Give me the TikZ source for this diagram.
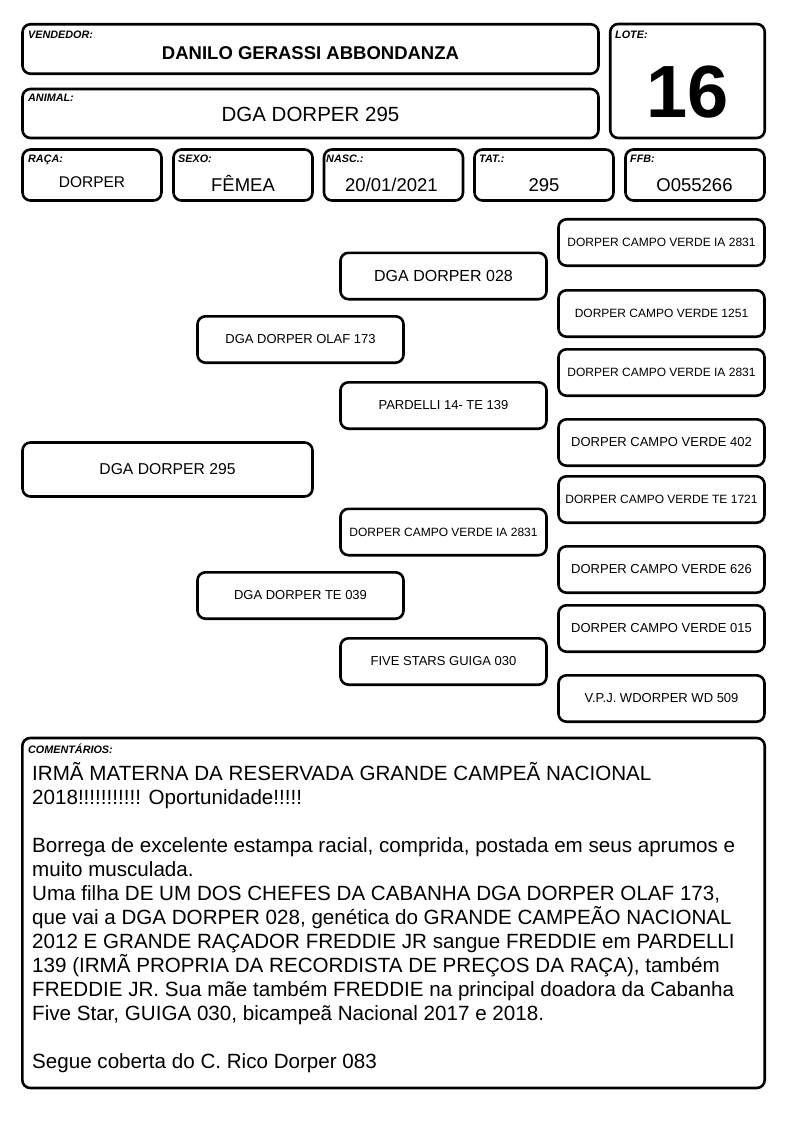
\documentclass[tikz,border=0pt]{standalone}
\usepackage{fontspec}
\setmainfont{Liberation Sans}
\usepackage{tikz}
\usetikzlibrary{positioning}

\begin{document}
\begin{tikzpicture}[
  x=1pt, y=-1pt,
  field/.style={rectangle, rounded corners=8pt, draw, line width=2.6pt,
                inner sep=0pt, minimum width=139pt, minimum height=51pt},
  tag/.style={anchor=base west, inner sep=0pt,
              font=\fontsize{10.8}{12}\selectfont\bfseries\itshape},
  val/.style={anchor=base, inner sep=0pt, font=\fontsize{18.5}{22}\selectfont},
  ped/.style={rectangle, rounded corners=8pt, draw, line width=2.6pt,
              minimum width=206pt, minimum height=46.4pt, inner sep=0pt,
              font=\fontsize{12}{14}\selectfont},
  pedbig/.style={ped, font=\fontsize{13}{15}\selectfont}
]

\useasboundingbox (0,0) rectangle (794,1123);

% ---- Header ----
\node[field, minimum width=576pt, minimum height=49.5pt] (vend)  at (310.5,49)   {};
\node[field, minimum width=576pt, minimum height=49pt]   (anim)  at (310.5,113.5) {};
\node[field, minimum width=154.5pt, minimum height=114pt] (lote) at (687.5,81)   {};

\node[tag] (vendt) at (28,39)  {VENDEDOR:};
\node[tag] (animt) at (28,102) {ANIMAL:};
\node[tag] (lotet) at (615,39) {LOTE:};

\node[val, font=\fontsize{18.5}{22}\selectfont\bfseries] (vendv) at (310.5,60) {DANILO GERASSI ABBONDANZA};
\node[val, font=\fontsize{20.5}{24}\selectfont] (animv) at (310.5,122) {DGA DORPER 295};
\node[val, font=\fontsize{74}{80}\selectfont\bfseries] (lotev) at (687.5,118) {16};

% ---- Data row ----
\node[field] (raca) at (92,175)    {};
\node[field] (sexo) at (243,175)   {};
\node[field] (nasc) at (393.5,175) {};
\node[field] (tat)  at (544,175)   {};
\node[field] (ffb)  at (695,175)   {};

\node[tag] (racat) at (28,163)  {RAÇA:};
\node[tag] (sexot) at (178,163) {SEXO:};
\node[tag] (nasct) at (326,163) {NASC.:};
\node[tag] (tatt)  at (479,163) {TAT.:};
\node[tag] (ffbt)  at (630,163) {FFB:};

\node[val, font=\fontsize{15.5}{18}\selectfont] (racav) at (92,188) {DORPER};
\node[val] (sexov) at (243,192)   {FÊMEA};
\node[val] (nascv) at (391.5,192) {20/01/2021};
\node[val] (tatv)  at (544,192)   {295};
\node[val] (ffbv)  at (694.5,192) {O055266};

% ---- Pedigree ----
\node[ped, minimum width=290pt, minimum height=54pt,
      font=\fontsize{15.7}{18}\selectfont] (p0) at (167.5,469.5) {DGA DORPER 295};

\node[pedbig] (p1) at (300.5,339.5) {DGA DORPER OLAF 173};
\node[pedbig] (p2) at (300.5,595.5) {DGA DORPER TE 039};

\node[ped, font=\fontsize{16}{18}\selectfont] (p11) at (443.5,276) {DGA DORPER 028};
\node[pedbig] (p12) at (443.5,405.5) {PARDELLI 14- TE 139};
\node[ped]    (p21) at (443.5,532)   {DORPER CAMPO VERDE IA 2831};
\node[pedbig] (p22) at (443.5,661.5) {FIVE STARS GUIGA 030};

\node[ped]    (p111) at (661.5,242.5) {DORPER CAMPO VERDE IA 2831};
\node[ped]    (p112) at (661.5,313.5) {DORPER CAMPO VERDE 1251};
\node[ped]    (p121) at (661.5,372.5) {DORPER CAMPO VERDE IA 2831};
\node[pedbig] (p122) at (661.5,442.5) {DORPER CAMPO VERDE 402};
\node[ped]    (p211) at (661.5,499.5) {DORPER CAMPO VERDE TE 1721};
\node[pedbig] (p212) at (661.5,569.5) {DORPER CAMPO VERDE 626};
\node[pedbig] (p221) at (661.5,628.5) {DORPER CAMPO VERDE 015};
\node[pedbig] (p222) at (661.5,698.5) {V.P.J. WDORPER WD 509};

% ---- Comments ----
\node[field, minimum width=742.4pt, minimum height=350pt] (coment) at (393.5,913) {};
\node[tag] (comentt) at (28,753) {COMENTÁRIOS:};
% base anchor sits on the last line
\node[anchor=base west, align=left, inner sep=0pt,
      font=\fontsize{20.6}{24}\selectfont] (obs) at (32,1068) {%
IRMÃ MATERNA DA RESERVADA GRANDE CAMPEÃ NACIONAL\\
2018!!!!!!!!!!! Oportunidade!!!!!\\[24pt]
Borrega de excelente estampa racial, comprida, postada em seus aprumos e\\
muito musculada.\\
Uma filha DE UM DOS CHEFES DA CABANHA DGA DORPER OLAF 173,\\
que vai a DGA DORPER 028, genética do GRANDE CAMPEÃO NACIONAL\\
2012 E GRANDE RAÇADOR FREDDIE JR sangue FREDDIE em PARDELLI\\
139 (IRMÃ PROPRIA DA RECORDISTA DE PREÇOS DA RAÇA), também\\
FREDDIE JR. Sua mãe também FREDDIE na principal doadora da Cabanha\\
Five Star, GUIGA 030, bicampeã Nacional 2017 e 2018.\\[24pt]
Segue coberta do C. Rico Dorper 083};

\end{tikzpicture}
\end{document}
